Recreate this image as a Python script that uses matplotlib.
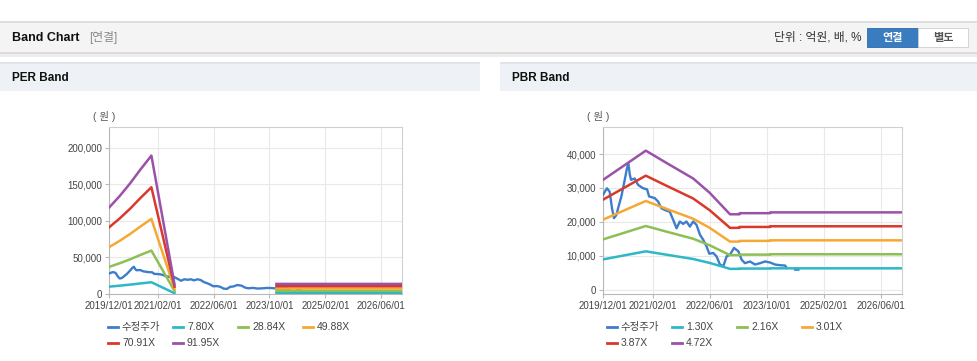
import numpy as np
import pandas as pd
import matplotlib
matplotlib.use("Agg")
import matplotlib.pyplot as plt
import matplotlib.dates as mdates
from matplotlib.patches import Rectangle
from matplotlib.lines import Line2D
from matplotlib.ticker import FuncFormatter

plt.rcParams['font.family'] = ['Liberation Sans', 'Noto Sans CJK KR']

W, H = 978, 361

# 수정주가 (same series on both charts)
price_dates = ['2019-12-01', '2019-12-18', '2020-01-04', '2020-01-27', '2020-02-16', '2020-03-04',
               '2020-03-24', '2020-04-16', '2020-05-06', '2020-06-04', '2020-06-21', '2020-07-05',
               '2020-07-17', '2020-07-28', '2020-08-28', '2020-09-26', '2020-11-08', '2020-12-12',
               '2020-12-29', '2021-02-16', '2021-03-16', '2021-04-14', '2021-05-13', '2021-06-24',
               '2021-07-23', '2021-08-21', '2021-09-18', '2021-10-17', '2021-11-14', '2021-12-13',
               '2022-01-10', '2022-02-08', '2022-03-09', '2022-04-06', '2022-05-05', '2022-05-28',
               '2022-07-01', '2022-07-29', '2022-08-27', '2022-09-25', '2022-10-23', '2022-11-21',
               '2022-12-25', '2023-02-01', '2023-03-01', '2023-03-29', '2023-05-11', '2023-06-23',
               '2023-08-05', '2023-09-17', '2023-10-30', '2023-12-11', '2024-01-23', '2024-03-06',
               '2024-03-20', '2024-04-20', '2024-05-31', '2024-06-28']
price_values = [27900, 29000, 29900, 28900, 24000, 21100,
                22000, 25000, 27500, 32400, 35500, 37300,
                34000, 32400, 32800, 30900, 29900, 29600,
                27500, 27000, 26000, 24000, 23500, 23000,
                20600, 18100, 20100, 19400, 20100, 18600,
                20100, 19100, 16200, 14700, 12700, 10600,
                10800, 9800, 7400, 6900, 9800, 10300,
                12300, 11300, 8800, 7800, 8300, 7400,
                7800, 8300, 8000, 7400, 7200, 7100,
                6400, np.nan, 5900, 5900]

# PER band: EPS x multiple
per_multiples = [7.80, 28.84, 49.88, 70.91, 91.95]
eps_dates = ['2019-12-01', '2020-03-01', '2020-06-01', '2020-09-01', '2020-12-05',
             '2021-06-25', '2021-06-26', '2023-12-01', '2026-12-01']
eps_values = [1282, 1450, 1640, 1850, 2055, 140, np.nan, 150, 150]

# PBR band: BPS x multiple
pbr_multiples = [1.30, 2.16, 3.01, 3.87, 4.72]
bps_dates = ['2019-12-01', '2020-12-01', '2021-06-01', '2022-01-10', '2022-06-01', '2022-11-21',
             '2023-02-10', '2023-02-11', '2023-10-30', '2023-10-31', '2026-12-01']
bps_values = [6860, 8690, 7900, 6950, 6050, 4710, 4710, 4780, 4780, 4830, 4830]

band_colors = ['#2db8c8', '#8dbf55', '#f5a935', '#d8392c', '#9c51a8']
price_color = '#3d7dcc'
x_ticks = ['2019/12/01', '2021/02/01', '2022/06/01', '2023/10/01', '2025/02/01', '2026/06/01']


def fx(x):
    return x / W


def fy(y):
    return 1 - y / H


def rect(x0, y0, x1, y1, **kw):
    fig.add_artist(Rectangle((fx(x0), fy(y1)), (x1 - x0) / W, (y1 - y0) / H,
                             transform=fig.transFigure, **kw))


def band_axes(box, multiples, base_dates, base_values, ylim, yticks):
    x0, y0, x1, y1 = box
    ax = fig.add_axes([fx(x0), fy(y1), (x1 - x0) / W, (y1 - y0) / H])
    pd_dates = pd.to_datetime(price_dates)
    ax.plot(pd_dates, price_values, color=price_color, lw=1.7, zorder=3)
    bd = pd.to_datetime(base_dates)
    base = np.array(base_values, dtype=float)
    for m, c in zip(multiples, band_colors):
        ax.plot(bd, base * m, color=c, lw=1.8, zorder=4)
    ax.set_xlim(pd.Timestamp('2019-12-01'), pd.Timestamp('2026-12-01'))
    ax.set_ylim(*ylim)
    ax.set_xticks(pd.to_datetime(x_ticks))
    ax.xaxis.set_major_formatter(mdates.DateFormatter('%Y/%m/%d'))
    ax.set_yticks(yticks)
    ax.yaxis.set_major_formatter(FuncFormatter(lambda v, p: f'{int(v):,}'))
    ax.grid(True, color='#e9e9e9', lw=0.8)
    ax.set_axisbelow(True)
    for s in ax.spines.values():
        s.set_color('#d0d0d0')
        s.set_linewidth(0.8)
    ax.spines['left'].set_color('#b8b8b8')
    ax.spines['bottom'].set_color('#b8b8b8')
    ax.tick_params(labelsize=7, colors='#b8b8b8', labelcolor='#444', length=3, pad=2)
    return ax


def legend(x0, y0, labels):
    colors = [price_color] + band_colors
    for i, (lab, col) in enumerate(zip(labels, colors)):
        r, c = divmod(i, 4)
        x = x0 + c * 65
        y = y0 + r * 16
        fig.add_artist(Line2D([fx(x), fx(x + 10)], [fy(y), fy(y)], color=col, lw=2,
                              transform=fig.transFigure))
        fig.text(fx(x + 14), fy(y), lab, fontsize=7.5, color='#444', va='center')


fig = plt.figure(figsize=(W / 100, H / 100), dpi=100)

# top header bar
rect(0, 54, W, 57, color='#ededed', lw=0)
rect(0, 22, W, 53, facecolor='#f4f4f4', edgecolor='none')
rect(0, 21, W, 23, color='#dedede', lw=0)
rect(0, 52, W, 54, color='#dcdcdc', lw=0)
fig.text(fx(12), fy(38), 'Band Chart', fontsize=9, fontweight='bold', color='#111', va='center')
fig.text(fx(89), fy(38), '[연결]', fontsize=8.5, color='#888', va='center')
fig.text(fx(862), fy(38), '단위 : 억원, 배, %', fontsize=8.5, color='#333', va='center', ha='right')
rect(867, 28, 918, 47, facecolor='#3a7cc0', edgecolor='#2f6aa8', lw=0.6)
rect(918, 28, 968, 47, facecolor='#ffffff', edgecolor='#cfcfcf', lw=0.6)
fig.text(fx(892.5), fy(38), '연결', fontsize=8, fontweight='bold', color='white', ha='center', va='center')
fig.text(fx(943), fy(38), '별도', fontsize=8, fontweight='bold', color='#555', ha='center', va='center')

# section headers
for x0, x1, title in [(0, 480, 'PER Band'), (500, W, 'PBR Band')]:
    rect(x0, 63, x1, 91, facecolor='#eef1f6', edgecolor='none')
    rect(x0, 62, x1, 64, color='#dfe3ea', lw=0)
    fig.text(fx(x0 + 12), fy(78), title, fontsize=8.5, fontweight='bold', color='#111', va='center')

band_axes((109, 127, 402, 294), per_multiples, eps_dates, eps_values,
          (0, 228000), [0, 50000, 100000, 150000, 200000])
band_axes((603, 127, 902, 294), pbr_multiples, bps_dates, bps_values,
          (-1300, 48000), [0, 10000, 20000, 30000, 40000])

fig.text(fx(93), fy(116), '( 원 )', fontsize=7.5, color='#555', va='center')
fig.text(fx(587), fy(116), '( 원 )', fontsize=7.5, color='#555', va='center')

legend(108, 327, ['수정주가'] + [f'{m:.2f}X' for m in per_multiples])
legend(607, 327, ['수정주가'] + [f'{m:.2f}X' for m in pbr_multiples])

fig.savefig('out.png', dpi=100)
